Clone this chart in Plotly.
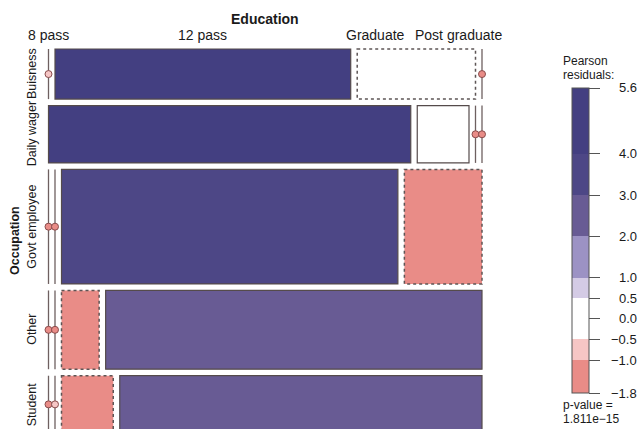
import numpy as np
import plotly.graph_objects as go

# ---------------- data ----------------
occupation = ["Buisness", "Daily wager", "Govt employee", "Other", "Student"]
education = ["8 pass", "12 pass", "Graduate", "Post graduate"]
counts_buisness = [0, 5, 2, 0]
counts_daily_wager = [7, 1, 0, 0]
counts_govt_employee = [0, 0, 13, 3]
counts_other = [0, 0, 1, 10]
counts_student = [0, 0, 1, 7]

legend_breaks = [-1.8, -1.0, -0.5, 0.5, 1.0, 2.0, 3.0, 4.0, 5.6]
legend_colors = ["#E98C87", "#F6C6C5", "#FFFFFF", "#D4CBE5",
                 "#9C92C4", "#685B94", "#4D4786", "#433F81"]
legend_ticks = [5.6, 4.0, 3.0, 2.0, 1.0, 0.5, 0.0, -0.5, -1.0, -1.8]
legend_ticktext = ["5.6", "4.0", "3.0", "2.0", "1.0", "0.5", "0.0", "\u22120.5", "\u22121.0", "\u22121.8"]
p_value_text = "1.811e\u221215"

# ---------------- style / geometry ----------------
FONT = "Liberation Sans, Arial, Helvetica, sans-serif"
LEFT, RIGHT, TOP, BOTTOM, GAP = 48.5, 482.0, 49.0, 433.0, 6.5
BORDER = "#554b4b"

table = np.array([counts_buisness, counts_daily_wager, counts_govt_employee,
                  counts_other, counts_student], dtype=float)
N = table.sum()
row_tot = table.sum(axis=1)
col_tot = table.sum(axis=0)
expected = np.outer(row_tot, col_tot) / N
resid = (table - expected) / np.sqrt(expected)


def band_color(r):
    for i in range(len(legend_colors)):
        if r <= legend_breaks[i + 1] or i == len(legend_colors) - 1:
            if r >= legend_breaks[i] or i == 0:
                return legend_colors[i]
    return legend_colors[-1]


nr, nc = table.shape
usable_h = (BOTTOM - TOP) - GAP * (nr - 1)
usable_w = (RIGHT - LEFT) - GAP * (nc - 1)

shapes = []
annotations = []
row_centers = []
first_row_centers = []

y = TOP
for i in range(nr):
    h = row_tot[i] / N * usable_h
    row_centers.append(y + h / 2)
    x = LEFT
    for j in range(nc):
        w = table[i, j] / row_tot[i] * usable_w
        col = band_color(resid[i, j])
        if i == 0:
            first_row_centers.append(x + w / 2)
        if table[i, j] == 0:
            shapes.append(dict(type="line", xref="x", yref="y", x0=x, x1=x, y0=y, y1=y + h,
                               line=dict(color="#6e6060", width=1.3)))
            shapes.append(dict(type="circle", xref="x", yref="y", x0=x - 3.5, x1=x + 3.5,
                               y0=y + h / 2 - 3.5, y1=y + h / 2 + 3.5,
                               fillcolor=col, line=dict(color="#8a4d4d", width=1)))
        else:
            neg = resid[i, j] < 0
            shapes.append(dict(type="rect", xref="x", yref="y", x0=x, x1=x + w, y0=y, y1=y + h,
                               fillcolor=col,
                               line=dict(color="#5d5555" if neg else BORDER,
                                         width=1.5 if neg else 1.2,
                                         dash="3px,3px" if neg else "solid")))
        x += w + GAP
    y += h + GAP

# column labels (nudged like the reference to avoid overlap)
label_nudge = [0, 0, -41, -24]
for j, name in enumerate(education):
    annotations.append(dict(x=first_row_centers[j] + label_nudge[j], y=35, xref="x", yref="y",
                            text=name, showarrow=False, font=dict(size=14, color="#1a1a1a", family=FONT)))
annotations.append(dict(x=265, y=19, xref="x", yref="y", text="<b>Education</b>", showarrow=False,
                        font=dict(size=14, color="#1a1a1a", family=FONT)))

for i, name in enumerate(occupation):
    annotations.append(dict(x=32, y=row_centers[i], xref="x", yref="y", text=name, textangle=-90,
                            showarrow=False, font=dict(size=12.5, color="#1a1a1a", family=FONT)))
annotations.append(dict(x=15, y=(TOP + BOTTOM) / 2, xref="x", yref="y", text="<b>Occupation</b>",
                        textangle=-90, showarrow=False, font=dict(size=12.5, color="#1a1a1a", family=FONT)))

# legend labels on a hidden value axis matching the colour bar
for v, t in zip(legend_ticks, legend_ticktext):
    annotations.append(dict(x=639, y=v, xref="x", yref="y2", text=t, xanchor="right",
                            showarrow=False, font=dict(size=13, color="#1a1a1a", family=FONT)))
annotations.append(dict(x=561, y=61, xref="x", yref="y", text="Pearson", xanchor="left",
                        showarrow=False, font=dict(size=12, color="#1a1a1a", family=FONT)))
annotations.append(dict(x=561, y=75, xref="x", yref="y", text="residuals:", xanchor="left",
                        showarrow=False, font=dict(size=12, color="#1a1a1a", family=FONT)))
annotations.append(dict(x=561, y=405, xref="x", yref="y", text="p-value =", xanchor="left",
                        showarrow=False, font=dict(size=12, color="#1a1a1a", family=FONT)))
annotations.append(dict(x=561, y=419, xref="x", yref="y", text=p_value_text, xanchor="left",
                        showarrow=False, font=dict(size=12, color="#1a1a1a", family=FONT)))

# discrete colour scale
lo, hi = legend_breaks[0], legend_breaks[-1]
colorscale = []
for k, c in enumerate(legend_colors):
    colorscale.append([(legend_breaks[k] - lo) / (hi - lo), c])
    colorscale.append([(legend_breaks[k + 1] - lo) / (hi - lo), c])

W, H = 640, 429
BAR_TOP, BAR_BOTTOM, BAR_LEFT = 88, 393, 572

fig = go.Figure()
fig.add_trace(go.Scatter(
    x=[-100], y=[-100], mode="markers", hoverinfo="skip", showlegend=False,
    marker=dict(color=[0], colorscale=colorscale, cmin=lo, cmax=hi, showscale=True, size=1,
                colorbar=dict(thickness=17, thicknessmode="pixels",
                              len=BAR_BOTTOM - BAR_TOP, lenmode="pixels",
                              x=BAR_LEFT / W, xanchor="left", xpad=0,
                              y=1 - BAR_TOP / H, yanchor="top", ypad=0,
                              outlinewidth=1, outlinecolor="#555",
                              tickvals=legend_ticks, ticks="outside", ticklen=11,
                              tickcolor="#555", tickwidth=1, showticklabels=False))))

fig.update_layout(
    width=W, height=H, autosize=False,
    margin=dict(l=0, r=0, t=0, b=0, pad=0),
    paper_bgcolor="white", plot_bgcolor="white",
    xaxis=dict(range=[0, W], visible=False, fixedrange=True, domain=[0, 1]),
    yaxis=dict(range=[H, 0], visible=False, fixedrange=True, domain=[0, 1]),
    yaxis2=dict(range=[lo, hi], visible=False, fixedrange=True, anchor="x",
                domain=[1 - BAR_BOTTOM / H, 1 - BAR_TOP / H]),
    shapes=shapes, annotations=annotations, showlegend=False,
)

fig.write_html("out.html")
